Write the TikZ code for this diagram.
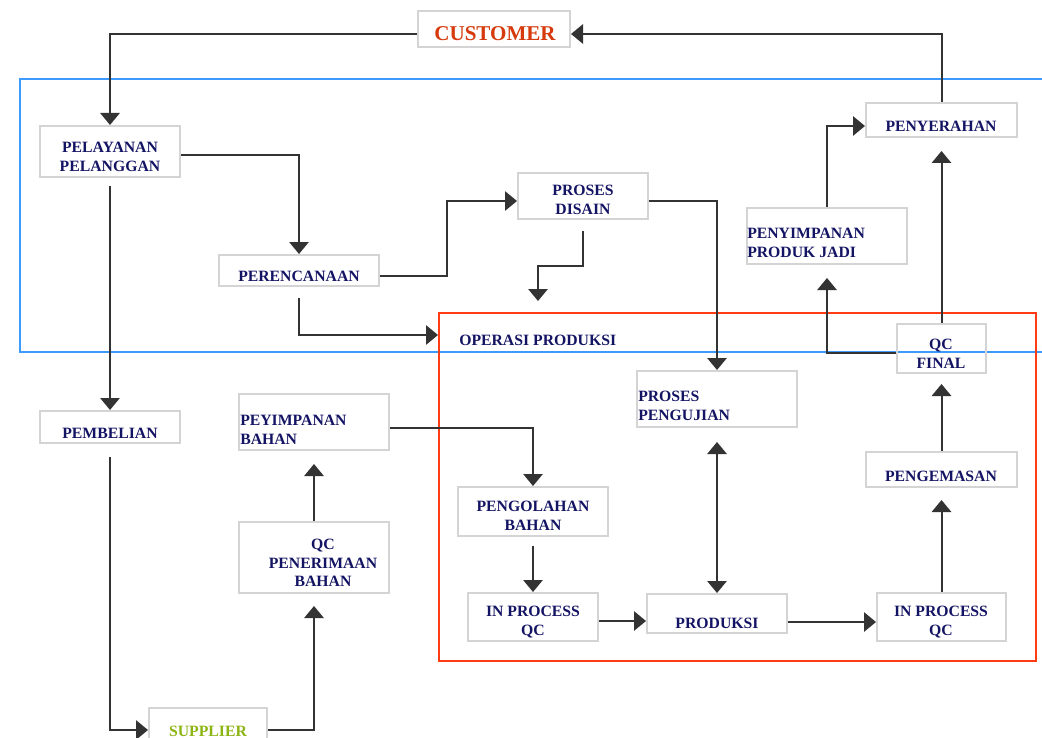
\documentclass[tikz,border=0pt]{standalone}
\usepackage{fontspec}
\setmainfont{Liberation Serif}
\usetikzlibrary{arrows.meta,calc,fit}
\definecolor{navy}{HTML}{141464}
\definecolor{custred}{HTML}{D63A0C}
\definecolor{supgreen}{HTML}{8CB414}
\definecolor{boxgray}{HTML}{D4D4D4}
\definecolor{linec}{HTML}{333333}
\definecolor{bluel}{HTML}{3D9BFF}
\definecolor{redl}{HTML}{FF3C14}
\begin{document}
\begin{tikzpicture}[x=0.75pt,y=-0.75pt,
  box/.style={draw=boxgray, line width=1.5pt, inner sep=0pt},
  lbl/.style={text=navy, font=\bfseries\fontsize{11.8}{14}\selectfont, align=center, inner sep=0pt},
  lbll/.style={lbl, align=left, anchor=west},
  arr/.style={draw=linec, line width=1.5pt, -{Triangle[width=14.5pt,length=9pt]}},
  dbl/.style={draw=linec, line width=1.5pt, {Triangle[width=14.5pt,length=9pt]}-{Triangle[width=14.5pt,length=9pt]}},
  frameb/.style={draw=bluel, line width=1.5pt},
  framer/.style={draw=redl, line width=1.5pt, inner sep=0pt}]

\useasboundingbox (0,0) rectangle (1042,738);

% area frames
\draw[frameb] (1042,79) -- (20,79) -- (20,352) -- (1042,352);
\node[framer, fit={(439,313) (1036,661)}] (ops) {};
\node[lbll] (opst) at (459,340) {OPERASI PRODUKSI};

% boxes
\node[box, fit={(418,11) (570,47)}] (cust) {};
\node[text=custred, font=\bfseries\fontsize{15.8}{18}\selectfont, inner sep=0pt] (custt) at (495,34) {CUSTOMER};

\node[box, fit={(40,126) (180,177)}] (pel) {};
\node[lbl] (pelt) at (110,157) {PELAYANAN\\PELANGGAN};

\node[box, fit={(219,255) (379,286)}] (per) {};
\node[lbl] (pert) at (299,276) {PERENCANAAN};

\node[box, fit={(518,173) (648,219)}] (dis) {};
\node[lbl] (dist) at (583,200) {PROSES\\DISAIN};

\node[box, fit={(866,103) (1017,137)}] (pyr) {};
\node[lbl] (pyrt) at (941,126) {PENYERAHAN};

\node[box, fit={(747,208) (907,264)}] (ppj) {};
\node[lbll] (ppjt) at (747,243) {PENYIMPANAN\\PRODUK JADI};

\node[box, fit={(897,324) (986,373)}] (qcf) {};
\node[lbl] (qcft) at (941,354) {QC\\FINAL};

\node[box, fit={(637,371) (797,427)}] (ppg) {};
\node[lbll] (ppgt) at (638,406) {PROSES\\PENGUJIAN};

\node[box, fit={(40,411) (180,443)}] (pmb) {};
\node[lbl] (pmbt) at (110,433) {PEMBELIAN};

\node[box, fit={(239,394) (389,450)}] (pbh) {};
\node[lbll] (pbht) at (240,430) {PEYIMPANAN\\BAHAN};

\node[box, fit={(239,522) (389,593)}] (qcp) {};
\node[lbl] (qcpt) at (323,563) {QC\\PENERIMAAN\\BAHAN};

\node[box, fit={(149,708) (267,752)}] (sup) {};
\node[text=supgreen, font=\bfseries\fontsize{11.8}{14}\selectfont, inner sep=0pt] (supt) at (208,731) {SUPPLIER};

\node[box, fit={(458,487) (608,536)}] (pgb) {};
\node[lbl] (pgbt) at (533,516) {PENGOLAHAN\\BAHAN};

\node[box, fit={(468,593) (598,641)}] (ipa) {};
\node[lbl] (ipat) at (533,622) {IN PROCESS\\QC};

\node[box, fit={(647,594) (787,633)}] (prd) {};
\node[lbl] (prdt) at (717,623) {PRODUKSI};

\node[box, fit={(877,593) (1006,641)}] (ipb) {};
\node[lbl] (ipbt) at (941,622) {IN PROCESS\\QC};

\node[box, fit={(866,452) (1017,487)}] (pgm) {};
\node[lbl] (pgmt) at (941,476) {PENGEMASAN};

% connectors
\draw[arr] ($(cust.west)+(0,5)$) -| (pel.north);
\draw[arr] ($(pel.east)+(0,3.5)$) -| (per.north);
\draw[arr] ($(pel.south)+(0,8)$) -- (pmb.north);
\draw[arr] ($(per.east)+(0,5.5)$) -| ($(dis.west)+(-70,5)$) -- ($(dis.west)+(0,5)$);
\draw[arr] ($(per.south)+(0,11)$) |- ($(ops.north west)+(0,23)$);
\draw[arr] ($(dis.south)+(0,11)$) -- ++(0,35) -| ++(-45,35);
\draw[arr] ($(dis.east)+(0,5)$) -| (ppg.north);
\draw[arr] (ppj.north) |- ($(pyr.west)+(0,6)$);
\draw[arr] ($(qcf.west)+(0,4.5)$) -| ($(ppj.south)+(0,13)$);
\draw[arr] (qcf.north) -- ($(pyr.south)+(0,13)$);
\draw[arr] (pyr.north) |- ($(cust.east)+(0,5)$);
\draw[arr] ($(pmb.south)+(0,13)$) |- (sup.west);
\draw[arr] (sup.east) -| ($(qcp.south)+(0,12)$);
\draw[arr] (qcp.north) -- ($(pbh.south)+(0,13)$);
\draw[arr] ($(pbh.east)+(0,6)$) -| (pgb.north);
\draw[arr] ($(pgb.south)+(0,9)$) -- (ipa.north);
\draw[arr] ($(ipa.east)+(0,4)$) -- ($(prd.west)+(0,7.5)$);
\draw[arr] ($(prd.east)+(0,8.5)$) -- ($(ipb.west)+(0,5)$);
\draw[dbl] ($(ppg.south)+(0,14)$) -- (prd.north);
\draw[arr] (ipb.north) -- ($(pgm.south)+(0,12)$);
\draw[arr] (pgm.north) -- ($(qcf.south)+(0,10)$);
\end{tikzpicture}
\end{document}
